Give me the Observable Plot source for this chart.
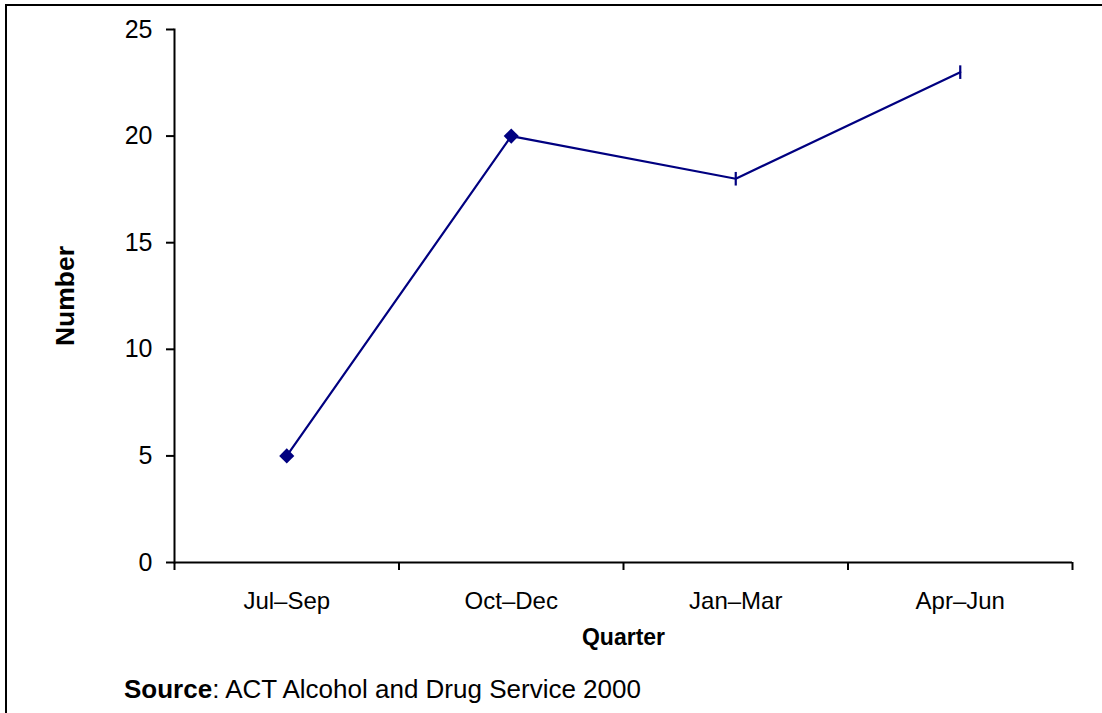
<!DOCTYPE html>
<html>
<head>
<meta charset="utf-8">
<script src="https://cdn.jsdelivr.net/npm/d3@7"></script>
<script src="https://cdn.jsdelivr.net/npm/@observablehq/plot@0.6"></script>
<style>
  html, body { margin: 0; padding: 0; background: #fff; overflow: hidden; }
  #page { position: relative; width: 1102px; height: 713px; font-family: "Liberation Sans", Arial, sans-serif; color: #000; }
  #frame { position: absolute; left: 5px; top: 4px; width: 1300px; height: 900px; border-left: 2px solid #000; border-top: 2px solid #000; box-sizing: border-box; }
  #chart { position: absolute; left: 0; top: 0; }
  #source { position: absolute; left: 124px; top: 674px; font-size: 26px; white-space: nowrap; }
</style>
</head>
<body>
<div id="page">
  <div id="frame"></div>
  <div id="chart"></div>
  <div id="source"><b>Source</b>: ACT Alcohol and Drug Service 2000</div>
</div>
<script>
// Quarterly counts
const quarters = ["Jul–Sep", "Oct–Dec", "Jan–Mar", "Apr–Jun"];
const counts = [5, 20, 18, 23];
const yTicks = [0, 5, 10, 15, 20, 25];

// Each quarter occupies one unit on the x scale; points sit at the middle of it
const rows = quarters.map((q, i) => ({quarter: q, pos: i + 0.5, count: counts[i], index: i}));
const centers = rows.map(d => d.pos);
const bounds = d3.range(quarters.length + 1);

// Short vertical bar used as a point marker
const vbar = {
  draw(ctx, size) {
    const h = Math.sqrt(size / Math.PI);
    ctx.moveTo(0, -h);
    ctx.lineTo(0, h);
  }
};

const navy = "#000080";
const font = "'Liberation Sans', Arial, sans-serif";

const chart = Plot.plot({
  width: 1102,
  height: 672,
  marginLeft: 174,
  marginRight: 30,
  marginTop: 29,
  marginBottom: 110,
  style: {fontFamily: font, color: "#000", background: "transparent", overflow: "visible"},
  x: {type: "linear", domain: [0, quarters.length], label: null},
  y: {domain: [0, 25], label: null},
  marks: [
    Plot.frame({anchor: "left", stroke: "#000", strokeWidth: 2}),
    Plot.ruleY([0], {stroke: "#000", strokeWidth: 2}),
    Plot.axisY({ticks: yTicks, tickSize: 8, tickPadding: 14, fontSize: 25, strokeWidth: 2, label: null, tickFormat: d3.format("d")}),
    Plot.axisX({ticks: bounds, tickSize: 8, strokeWidth: 2, label: null, tickFormat: () => ""}),
    Plot.axisX({ticks: centers, tickSize: 0, tickPadding: 29, fontSize: 24, label: null, tickFormat: v => quarters[Math.round(v - 0.5)]}),
    Plot.text(["Number"], {frameAnchor: "left", textAnchor: "middle", dx: -109, rotate: -90, fontSize: 26.5, fontWeight: "bold"}),
    Plot.text(["Quarter"], {frameAnchor: "bottom", textAnchor: "middle", dy: 82, fontSize: 23, fontWeight: "bold"}),
    Plot.line(rows, {x: "pos", y: "count", stroke: navy, strokeWidth: 2.2}),
    Plot.dot(rows.filter(d => d.index < 2), {x: "pos", y: "count", symbol: "diamond2", r: 6.8, fill: navy, stroke: "none"}),
    Plot.dot(rows.filter(d => d.index >= 2), {x: "pos", y: "count", symbol: vbar, r: 6.8, stroke: navy, strokeWidth: 2.2, fill: "none"})
  ]
});

document.getElementById("chart").appendChild(chart);
</script>
</body>
</html>
